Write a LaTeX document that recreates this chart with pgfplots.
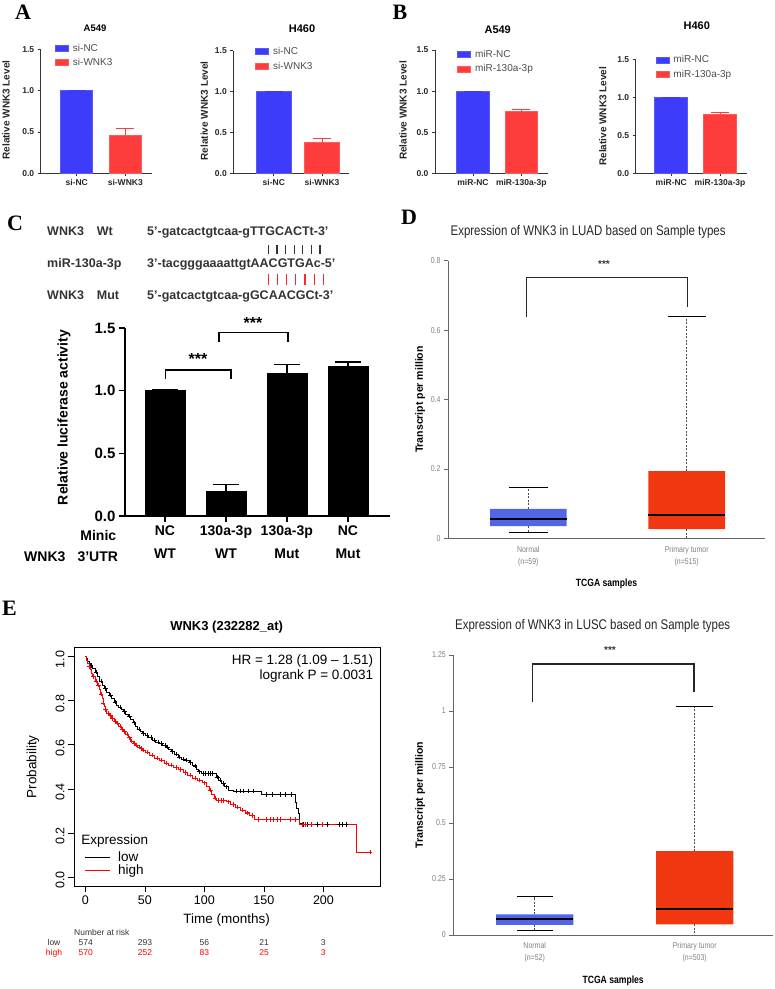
\documentclass[border=0pt]{standalone}
\usepackage{pgfplots}
\pgfplotsset{compat=1.18}
\usepackage{fontspec}
\setmainfont{Liberation Sans}
\newfontfamily\serif{Liberation Serif}
\newfontfamily\cond[FakeStretch=0.82]{Liberation Sans}
\newcommand{\fs}[1]{\fontsize{#1}{#1}\selectfont}
\definecolor{gpblue}{RGB}{60,60,250}
\definecolor{gpred}{RGB}{255,60,60}
\definecolor{bxblue}{RGB}{82,100,232}
\definecolor{bxred}{RGB}{240,55,15}
\definecolor{kmred}{RGB}{255,0,0}

\pgfplotsset{
 gp/.style={
  scale only axis, anchor=south west, clip=false,
  axis lines=left, axis line style={-, line width=0.8pt, black!80},
  tick align=outside, major tick length=3pt,
  tick style={line width=0.8pt, black!80},
  ymin=0, ymax=1.5, ytick={0,0.5,1,1.5},
  yticklabel style={/pgf/number format/fixed, /pgf/number format/fixed zerofill, /pgf/number format/precision=1},
  tick label style={font=\bfseries\fs{8.5}, text=black!85},
  /pgf/number format/assume math mode=true,
  ylabel={Relative WNK3 Level},
  ylabel style={font=\bfseries\fs{10}, text=black!85, anchor=center},
  title style={font=\bfseries\fs{11}, anchor=center},
  legend cell align=left,
  legend style={draw=none, fill=none, font=\fs{10}, text=black!70, anchor=north west, inner sep=0pt, row sep=4pt, nodes={inner sep=0.8pt},
    /tikz/every odd column/.append style={column sep=3pt}},
  legend image code/.code={\draw[#1,/tikz/.cd,line width=0.8pt] (0pt,-3pt) rectangle (13pt,3pt);},
 },
 gpbar/.style={ybar, bar shift=0pt, fill=#1, draw=#1!85!white, line width=0.8pt,
   /pgfplots/error bars/y dir=plus, /pgfplots/error bars/y explicit,
   /pgfplots/error bars/error bar style={line width=0.8pt, #1},
   /pgfplots/error bars/error mark options={rotate=90, mark size=9pt, line width=0.8pt, #1}},
 cbar/.style={ybar, bar shift=0pt, bar width=40pt, fill=black, draw=black,
   /pgfplots/error bars/y dir=plus, /pgfplots/error bars/y explicit,
   /pgfplots/error bars/error bar style={line width=1.5pt, black},
   /pgfplots/error bars/error mark options={rotate=90, mark size=13pt, line width=1.5pt, black}},
 bx/.style={scale only axis, anchor=south west, clip=false,
  axis lines=left, axis line style={-, line width=1pt, black!60},
  tick align=outside, major tick length=4pt, ytick style={line width=0.9pt, black!60}, xtick style={draw=none},
  tick label style={font=\cond\fontsize{8.5}{12}\selectfont, text=black!50},
  xticklabel style={align=center},
  /pgf/number format/assume math mode=true,
  title style={font=\cond\fs{14}, text=black!85, anchor=center},
  xlabel={TCGA samples}, xlabel style={font=\cond\bfseries\fs{10.5}, at={(axis description cs:0.5,0)}, anchor=center},
  ylabel={Transcript per million}, ylabel style={font=\bfseries\fs{10.5}, anchor=center}},
 whisk/.style={black!70, line width=0.7pt, dash pattern=on 2pt off 1.5pt},
 cap/.style={black, line width=1.2pt},
 med/.style={black, line width=2pt},
}

\begin{document}
\begin{tikzpicture}
\path[use as bounding box] (0,0) rectangle (775pt,-989pt);

% panel letters
\node[font=\serif\bfseries\fs{22}] at (23pt,-12.5pt) {A};
\node[font=\serif\bfseries\fs{22}] at (400pt,-12.5pt) {B};
\node[font=\serif\bfseries\fs{22}] at (15pt,-223pt) {C};
\node[font=\serif\bfseries\fs{22}] at (409pt,-217pt) {D};
\node[font=\serif\bfseries\fs{22}] at (9.5pt,-608pt) {E};

% ---------- A left ----------
\begin{axis}[gp, at={(40.7pt,-173.3pt)}, width=111.3pt, height=124pt, xmin=0, xmax=111.3,
  xtick={36,84.6}, xticklabels={si-NC,si-WNK3},
  title={A549}, title style={at={(axis description cs:0.488,1)}, yshift=15.3pt, font=\bfseries\fs{9.5}},
  ylabel style={at={(axis description cs:-0.312,0.51)}},
  legend style={at={(axis description cs:0.13,1.05)}}]
\addplot[gpbar=gpblue, bar width=32pt] coordinates {(36,1.0) +- (0,0)};
\addlegendentry{si-NC}
\addplot[gpbar=gpred, bar width=32pt] coordinates {(84.6,0.455) +- (0,0.09)};
\addlegendentry{si-WNK3}
\end{axis}

% ---------- A right ----------
\begin{axis}[gp, at={(233.3pt,-173.3pt)}, width=115.7pt, height=122.6pt, xmin=0, xmax=115.7,
  xtick={40.5,88.7}, xticklabels={si-NC,si-WNK3},
  title={H460}, title style={at={(axis description cs:0.594,1)}, yshift=15.7pt},
  ylabel style={at={(axis description cs:-0.251,0.51)}},
  legend style={at={(axis description cs:0.19,1.035)}}]
\addplot[gpbar=gpblue, bar width=35.5pt] coordinates {(40.5,1.0) +- (0,0)};
\addlegendentry{si-NC}
\addplot[gpbar=gpred, bar width=35.5pt] coordinates {(88.7,0.38) +- (0,0.045)};
\addlegendentry{si-WNK3}
\end{axis}

% ---------- B left ----------
\begin{axis}[gp, at={(435pt,-173.3pt)}, width=113pt, height=123.3pt, xmin=0, xmax=113,
  xtick={38,86.3}, xticklabels={miR-NC,miR-130a-3p},
  title={A549}, title style={at={(axis description cs:0.555,1)}, yshift=14pt},
  ylabel style={at={(axis description cs:-0.283,0.51)}},
  legend style={at={(axis description cs:0.197,1.005)}}]
\addplot[gpbar=gpblue, bar width=32.6pt] coordinates {(38,1.0) +- (0,0)};
\addlegendentry{miR-NC}
\addplot[gpbar=gpred, bar width=32.6pt] coordinates {(86.3,0.75) +- (0,0.03)};
\addlegendentry{miR-130a-3p}
\end{axis}

% ---------- B right ----------
\begin{axis}[gp, at={(635.7pt,-173.3pt)}, width=111pt, height=114pt, xmin=0, xmax=111,
  xtick={35.6,84.3}, xticklabels={miR-NC,miR-130a-3p},
  title={H460}, title style={at={(axis description cs:0.55,1)}, yshift=27.6pt},
  ylabel style={at={(axis description cs:-0.297,0.5)}},
  legend style={at={(axis description cs:0.18,1.04)}}]
\addplot[gpbar=gpblue, bar width=33pt] coordinates {(35.6,1.0) +- (0,0)};
\addlegendentry{miR-NC}
\addplot[gpbar=gpred, bar width=33pt] coordinates {(84.3,0.776) +- (0,0.025)};
\addlegendentry{miR-130a-3p}
\end{axis}

% ---------- C sequences ----------
\begin{scope}[every node/.style={font=\bfseries\fs{12.5}, text=black!80, anchor=mid west, inner sep=0pt}]
\node at (47pt,-233pt) {WNK3};
\node at (96.7pt,-233pt) {Wt};
\node at (47pt,-265pt) {miR-130a-3p};
\node at (47pt,-297pt) {WNK3};
\node at (96.7pt,-297pt) {Mut};
\node at (147pt,-233pt) {5'-gatcactgtcaa-gTTGCACTt-3'};
\node at (147pt,-265pt) {3'-tacgggaaaattgtAACGTGAc-5'};
\node at (147pt,-297pt) {5'-gatcactgtcaa-gGCAACGCt-3'};
\end{scope}
\foreach \i in {0,...,6}{
  \draw[line width=1.2pt, black!80] ({268.3pt+\i*8.62pt},-245pt) -- ({268.3pt+\i*8.62pt},-254pt);
  \draw[line width=1.2pt, red!85] ({268.3pt+\i*9.17pt},-274.3pt) -- ({268.3pt+\i*9.17pt},-285pt);
}

% ---------- C bar chart ----------
\begin{axis}[scale only axis, anchor=south west, at={(125pt,-516pt)}, width=265pt, height=188pt, clip=false,
  xmin=0, xmax=265, ymin=0, ymax=1.5, axis lines=left, axis line style={-, line width=1.6pt},
  tick align=outside, major tick length=6pt, tick style={line width=1.6pt, black},
  ytick={0,0.5,1,1.5},
  yticklabel style={font=\bfseries\fs{15}, /pgf/number format/fixed, /pgf/number format/fixed zerofill, /pgf/number format/precision=1},
  xtick={40,101,161.8,223}, xticklabels={{NC\\WT},{130a-3p\\WT},{130a-3p\\Mut},{NC\\Mut}},
  xticklabel style={align=center, font=\bfseries\fontsize{14}{23.3}\selectfont},
  /pgf/number format/assume math mode=true,
  ylabel={Relative luciferase activity},
  ylabel style={font=\bfseries\fs{14}, at={(axis description cs:-0.23,0.524)}, anchor=center}]
\addplot[cbar] coordinates {(40,1.0) +- (0,0.005)};
\addplot[cbar] coordinates {(101,0.2) +- (0,0.05)};
\addplot[cbar] coordinates {(161.8,1.14) +- (0,0.07)};
\addplot[cbar] coordinates {(223,1.195) +- (0,0.035)};
\draw[line width=1.5pt] (axis cs:40.7,1.093) -- (axis cs:40.7,1.165) -- (axis cs:106,1.165) -- (axis cs:106,1.093);
\node[font=\bfseries\fs{16}] at (axis cs:73,1.25) {***};
\draw[line width=1.5pt] (axis cs:94,1.39) -- (axis cs:94,1.463) -- (axis cs:163,1.463) -- (axis cs:163,1.39);
\node[font=\bfseries\fs{16}] at (axis cs:128,1.54) {***};
\end{axis}
\node[font=\bfseries\fs{14}] at (98.3pt,-535.7pt) {Minic};
\node[font=\bfseries\fs{14}, anchor=mid west, inner sep=0pt] at (24pt,-559pt) {WNK3};
\node[font=\bfseries\fs{14}, anchor=mid west, inner sep=0pt] at (77.3pt,-559pt) {3'UTR};

% ---------- D box plot (LUAD) ----------
\begin{axis}[bx, at={(448pt,-538.5pt)}, width=317pt, height=277.8pt, xmin=0, xmax=317, ymin=0, ymax=0.8,
  ytick={0,0.2,0.4,0.6,0.8}, xtick={80.3,238.7}, xticklabels={{Normal\\(n=59)},{Primary tumor\\(n=515)}},
  title={Expression of WNK3 in LUAD based on Sample types}, title style={at={(axis description cs:0.442,1)}, yshift=22.5pt},
  xlabel style={yshift=-44.8pt}, ylabel style={at={(axis description cs:-0.088,0.5)}}]
% Normal
\addplot[whisk] coordinates {(80.3,0.085) (80.3,0.148)};
\addplot[whisk] coordinates {(80.3,0.036) (80.3,0.018)};
\addplot[fill=bxblue, draw=none] coordinates {(42,0.036) (118.6,0.036) (118.6,0.085) (42,0.085) (42,0.036)};
\addplot[med] coordinates {(42,0.057) (118.6,0.057)};
\addplot[cap] coordinates {(60.8,0.148) (99.8,0.148)};
\addplot[cap] coordinates {(60.8,0.018) (99.8,0.018)};
% Primary tumor
\addplot[whisk] coordinates {(238.7,0.194) (238.7,0.64)};
\addplot[whisk] coordinates {(238.7,0.027) (238.7,0)};
\addplot[fill=bxred, draw=none] coordinates {(200.4,0.027) (277,0.027) (277,0.194) (200.4,0.194) (200.4,0.027)};
\addplot[med] coordinates {(200.4,0.068) (277,0.068)};
\addplot[cap] coordinates {(219.7,0.64) (257.7,0.64)};
\draw[line width=1.3pt, black!85] (axis cs:78.7,0.639) -- (axis cs:78.7,0.752) -- (axis cs:239.7,0.752) -- (axis cs:239.7,0.668);
\node[font=\bfseries\fs{10}, text=black!80] at (axis cs:156,0.79) {***};
\end{axis}

% ---------- E KM plot ----------
\begin{axis}[scale only axis, anchor=south west, at={(74pt,-886pt)}, width=306pt, height=238.3pt, clip=false,
  xmin=-9.5, xmax=247.5, ymin=-0.04, ymax=1.04,
  axis line style={line width=0.6pt}, tick style={line width=0.6pt, black}, tick align=outside, tick pos=left, major tick length=6pt,
  xtick={0,50,100,150,200}, ytick={0,0.2,0.4,0.6,0.8,1},
  yticklabel style={rotate=90, anchor=south, xshift=-3pt, /pgf/number format/fixed, /pgf/number format/fixed zerofill, /pgf/number format/precision=1},
  tick label style={font=\fs{12.5}}, /pgf/number format/assume math mode=true,
  title={WNK3 (232282\_at)}, title style={font=\bfseries\fs{13}, at={(axis description cs:0.499,1)}, anchor=center, yshift=14.4pt},
  xlabel={Time (months)}, xlabel style={font=\fs{13.5}, at={(axis description cs:0.499,0)}, anchor=center, yshift=-34pt},
  ylabel={Probability}, ylabel style={font=\fs{13.5}, at={(axis description cs:-0.134,0.5)}, anchor=center},
  legend cell align=left,
  legend style={at={(axis cs:-1,0.125)}, anchor=north west, draw=none, fill=none, font=\fs{13.5}, inner sep=0pt, row sep=-2pt,
    /tikz/every odd column/.append style={column sep=6pt}},
  legend image code/.code={\draw[#1] (0pt,0pt) -- (25pt,0pt);}]
\addlegendimage{black, line width=0.7pt}
\addlegendentry{low}
\addlegendimage{kmred, line width=0.7pt}
\addlegendentry{high}
% low expression (black)
\addplot[const plot, black, line width=0.6pt, forget plot] coordinates {
(0,1.0) (1,0.99) (2,0.98) (3,0.97) (4,0.96) (6,0.945) (8,0.93) (10,0.91) (12,0.89) (14,0.87)
(16,0.855) (18,0.84) (20,0.825) (22,0.81) (24,0.795) (26,0.78) (28,0.77) (30,0.76) (32,0.75)
(34,0.74) (36,0.73) (38,0.715) (40,0.70) (42,0.685) (44,0.672) (46,0.662) (48,0.652) (50,0.643)
(53,0.633) (56,0.622) (59,0.613) (62,0.605) (65,0.598) (68,0.59) (70,0.58) (72,0.57) (75,0.558)
(78,0.545) (81,0.535) (84,0.53) (87,0.52) (90,0.505) (93,0.49) (95,0.478) (97,0.47) (108,0.47)
(110,0.455) (112,0.44) (114,0.425) (117,0.41) (120,0.395) (124,0.39) (148,0.375) (175,0.375)
(176,0.34) (177,0.31) (179,0.29) (180,0.245) (181,0.238) (222,0.238)};
\addplot[only marks, mark=+, mark size=2.2pt, black, line width=0.5pt, forget plot] coordinates {
(5,0.96) (9,0.93) (13,0.89) (17,0.855) (21,0.825) (25,0.795) (29,0.77) (33,0.75) (37,0.73)
(41,0.70) (45,0.672) (49,0.652) (52,0.643) (55,0.633) (58,0.622) (61,0.613) (64,0.605) (67,0.598)
(69,0.59) (73,0.57) (76,0.558) (79,0.545) (82,0.535) (85,0.53) (88,0.52) (92,0.505) (96,0.478)
(99,0.47) (101,0.47) (103,0.47) (105,0.47) (107,0.47) (111,0.455) (113,0.44) (116,0.425) (118,0.41)
(127,0.39) (130,0.39) (133,0.39) (137,0.39) (141,0.39) (152,0.375) (157,0.375) (164,0.375)
(168,0.375) (173,0.375) (183,0.238) (186,0.238) (190,0.238) (195,0.238) (203,0.238) (213,0.238)
(216,0.238) (219,0.238)};
% high expression (red)
\addplot[const plot, kmred, line width=0.6pt, forget plot] coordinates {
(0,1.0) (1,0.985) (2,0.97) (3,0.955) (4,0.94) (5,0.925) (6,0.91) (8,0.89) (10,0.87) (12,0.85)
(13,0.83) (14,0.81) (15,0.79) (16,0.775) (17,0.76) (18,0.745) (20,0.733) (22,0.72) (24,0.708)
(26,0.698) (28,0.685) (30,0.672) (32,0.66) (34,0.648) (36,0.632) (38,0.618) (40,0.607) (42,0.598)
(44,0.59) (46,0.583) (48,0.577) (50,0.568) (54,0.553) (58,0.54) (62,0.53) (66,0.518) (70,0.508)
(74,0.498) (78,0.488) (82,0.475) (86,0.462) (90,0.45) (94,0.44) (98,0.428) (102,0.41) (104,0.395)
(106,0.375) (108,0.358) (110,0.348) (118,0.342) (122,0.33) (126,0.318) (130,0.305) (134,0.292)
(138,0.28) (142,0.262) (178,0.262) (180,0.238) (228,0.115) (239,0.115)};
\addplot[only marks, mark=+, mark size=2.2pt, kmred, line width=0.5pt, forget plot] coordinates {
(3,0.955) (7,0.91) (9,0.89) (11,0.87) (13,0.83) (15,0.79) (17,0.76) (19,0.745) (21,0.733)
(23,0.72) (25,0.708) (27,0.698) (29,0.685) (31,0.672) (33,0.66) (35,0.648) (37,0.632) (39,0.618)
(41,0.607) (43,0.598) (45,0.59) (47,0.583) (49,0.577) (52,0.568) (56,0.553) (60,0.54) (64,0.53)
(68,0.518) (72,0.508) (76,0.498) (80,0.488) (84,0.475) (88,0.462) (92,0.45) (96,0.44) (100,0.428)
(105,0.395) (109,0.358) (112,0.348) (114,0.348) (116,0.348) (120,0.342) (124,0.33) (128,0.318)
(132,0.305) (136,0.292) (140,0.28) (145,0.262) (152,0.262) (155,0.262) (158,0.262) (161,0.262)
(164,0.262) (172,0.262) (176,0.262) (182,0.238) (185,0.238) (190,0.238) (199,0.238) (239,0.115)};
\node[font=\fs{13.5}, anchor=east, inner sep=0pt] at (axis cs:242,0.982) {HR = 1.28 (1.09 – 1.51)};
\node[font=\fs{13.5}, anchor=east, inner sep=0pt] at (axis cs:242,0.914) {logrank P = 0.0031};
\node[font=\fs{13.5}, anchor=west, inner sep=0pt] at (axis cs:-3.4,0.166) {Expression};
\end{axis}
% number at risk
\node[font=\fs{8.5}, text=black!80, anchor=mid west, inner sep=0pt] at (74pt,-932.7pt) {Number at risk};
\begin{scope}[every node/.style={font=\fs{8.5}, text=black!80, anchor=mid, inner sep=0pt}]
\node at (54pt,-942.7pt) {low};
\node at (85.7pt,-942.7pt) {574};
\node at (145pt,-942.7pt) {293};
\node at (204.3pt,-942.7pt) {56};
\node at (264pt,-942.7pt) {21};
\node at (323.3pt,-942.7pt) {3};
\end{scope}
\begin{scope}[every node/.style={font=\fs{8.5}, text=kmred, anchor=mid, inner sep=0pt}]
\node at (54pt,-952.7pt) {high};
\node at (85.7pt,-952.7pt) {570};
\node at (145pt,-952.7pt) {252};
\node at (204.3pt,-952.7pt) {83};
\node at (264pt,-952.7pt) {25};
\node at (323.3pt,-952.7pt) {3};
\end{scope}

% ---------- E box plot (LUSC) ----------
\begin{axis}[bx, at={(453.3pt,-935pt)}, width=319.7pt, height=280pt, xmin=0, xmax=319.7, ymin=0, ymax=1.25,
  ytick={0,0.25,0.5,0.75,1,1.25}, xtick={81.4,241.4}, xticklabels={{Normal\\(n=52)},{Primary tumor\\(n=503)}},
  title={Expression of WNK3 in LUSC based on Sample types}, title style={at={(axis description cs:0.436,1)}, yshift=22.8pt},
  xlabel style={yshift=-46pt}, ylabel style={at={(axis description cs:-0.104,0.5)}}]
% Normal
\addplot[whisk] coordinates {(81.4,0.092) (81.4,0.171)};
\addplot[whisk] coordinates {(81.4,0.045) (81.4,0.019)};
\addplot[fill=bxblue, draw=none] coordinates {(42.75,0.045) (120.05,0.045) (120.05,0.092) (42.75,0.092) (42.75,0.045)};
\addplot[med] coordinates {(42.75,0.071) (120.05,0.071)};
\addplot[cap] coordinates {(63.6,0.171) (99.2,0.171)};
\addplot[cap] coordinates {(63.6,0.019) (99.2,0.019)};
% Primary tumor
\addplot[whisk] coordinates {(241.4,0.375) (241.4,1.02)};
\addplot[whisk] coordinates {(241.4,0.048) (241.4,0)};
\addplot[fill=bxred, draw=none] coordinates {(202.75,0.048) (280.05,0.048) (280.05,0.375) (202.75,0.375) (202.75,0.048)};
\addplot[med] coordinates {(202.75,0.115) (280.05,0.115)};
\addplot[cap] coordinates {(223.1,1.02) (259.7,1.02)};
\draw[line width=1.3pt, black!85] (axis cs:79.4,1.041) -- (axis cs:79.4,1.21) -- (axis cs:240.7,1.21) -- (axis cs:240.7,1.086);
\node[font=\bfseries\fs{10}, text=black!80] at (axis cs:156.7,1.272) {***};
\end{axis}

\end{tikzpicture}
\end{document}
